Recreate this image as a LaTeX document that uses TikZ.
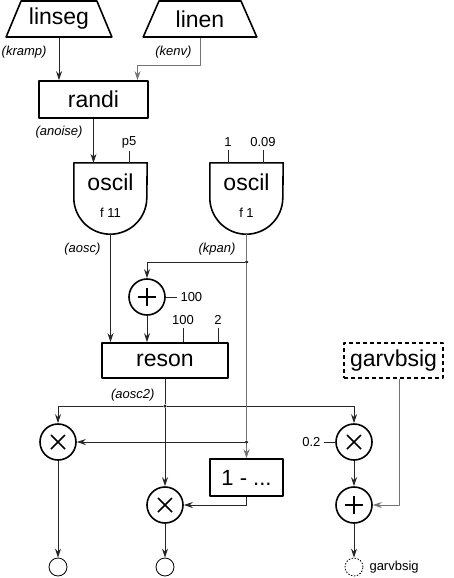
\documentclass[tikz,border=0pt]{standalone}
\usepackage{fontspec}
\setmainfont{Liberation Sans}
\usetikzlibrary{shapes.geometric,arrows.meta,positioning}

\begin{document}
\begin{tikzpicture}[x=1pt,y=-1pt,>={Stealth[length=9pt,width=6pt]},line join=round,
  every node/.style={font=\fontsize{13}{15}\selectfont},
  block/.style={draw,line width=1.6pt,inner sep=0pt,font=\fontsize{23}{26}\selectfont},
  gen/.style={block,trapezium,trapezium angle=61,trapezium stretches=true,minimum width=106pt,minimum height=36pt},
  fnbox/.style={inner sep=0pt,minimum width=73pt,minimum height=71pt},
  big/.style={font=\fontsize{23}{26}\selectfont},
  lbl/.style={anchor=east,font=\itshape\fontsize{13}{15}\selectfont},
  wire/.style={draw=black!85,line width=0.9pt},
  kwire/.style={draw=black!55,line width=0.9pt},
  dot/.style={circle,fill=black!85,inner sep=0pt,minimum size=3.5pt},
  op/.style={circle,draw,line width=1.6pt,minimum size=36pt,inner sep=0pt},
  addop/.style={op,path picture={\draw[line width=1.5pt]
    ([xshift=-9pt]path picture bounding box.center) -- ([xshift=9pt]path picture bounding box.center)
    ([yshift=-9pt]path picture bounding box.center) -- ([yshift=9pt]path picture bounding box.center);}},
  mulop/.style={op,path picture={\draw[line width=1.5pt]
    ([shift={(-7pt,-7pt)}]path picture bounding box.center) -- ([shift={(7pt,7pt)}]path picture bounding box.center)
    ([shift={(-7pt,7pt)}]path picture bounding box.center) -- ([shift={(7pt,-7pt)}]path picture bounding box.center);}},
  outp/.style={circle,draw,line width=0.8pt,minimum size=18pt,inner sep=0pt}]

  \useasboundingbox (0,0) rectangle (454,578);

  % generators
  \node[gen] (linseg) at (59,19) {linseg};
  \node[gen,minimum width=114pt] (linen) at (200,19) {linen};
  \node[lbl] (kramp) at (50,52) {(kramp)};
  \node[lbl] (kenv) at (195,52) {(kenv)};
  \node[block,minimum width=109pt,minimum height=37pt] (randi) at (93.5,99.5) {randi};
  \draw[wire,->] (linseg.south) -- (linseg.south |- randi.north);
  \draw[kwire,->] (linen.south) -- ++(0,28) -| ([xshift=44pt]randi.north);
  \node[lbl] (anoise) at (86,132) {(anoise)};

  % oscillators
  \node[fnbox] (osc1) at (110.5,198.5) {};
  \draw[line width=1.6pt] (osc1.north west) -- ([yshift=36.5pt]osc1.south west)
    arc[start angle=180,end angle=360,radius=36.5pt] -- (osc1.north east) -- cycle;
  \node[big] (osc1name) at (110.5,182) {oscil};
  \node (osc1tab) at (110.5,213) {f 11};
  \node[fnbox] (osc2) at (246.5,198.5) {};
  \draw[line width=1.6pt] (osc2.north west) -- ([yshift=36.5pt]osc2.south west)
    arc[start angle=180,end angle=360,radius=36.5pt] -- (osc2.north east) -- cycle;
  \node[big] (osc2name) at (246.5,182) {oscil};
  \node (osc2tab) at (246.5,213) {f 1};
  \draw[wire,->] (randi.south) -- (randi.south |- osc1.north);
  \node (p5) at (129,142) {p5};
  \draw[wire] (p5.south) -- (p5.south |- osc1.north);
  \node (amp1) at (228,142) {1};
  \draw[wire] (amp1.south) -- (amp1.south |- osc2.north);
  \node (frq) at (263,142) {0.09};
  \draw[wire] (frq.south) -- (frq.south |- osc2.north);
  \node[lbl] (aosc) at (104,249) {(aosc)};
  \node[lbl] (kpan) at (239,249) {(kpan)};

  % filter
  \node[dot] (kdot1) at (246.5,262) {};
  \node[addop] (add1) at (147,297) {};
  \node[anchor=west] (c100) at (177,297) {100};
  \node[block,minimum width=126pt,minimum height=35pt] (reson) at (165,360.5) {reson};
  \node (r100) at (183,320) {100};
  \node (r2) at (218,320) {2};
  \draw[kwire] (osc2.south) -- (kdot1);
  \draw[wire,->] (kdot1) -| (add1.north);
  \draw[wire] (add1.east) -- (c100.west);
  \draw[wire,->] (add1.south) -- (add1.south |- reson.north);
  \draw[wire,->] (osc1.south) -- (osc1.south |- reson.north);
  \draw[wire] (r100.south) -- (r100.south |- reson.north);
  \draw[wire] (r2.south) -- (r2.south |- reson.north);
  \node[block,dash pattern=on 4pt off 3pt,minimum width=99pt,minimum height=35pt] (gin) at (393.5,360.5) {garvbsig};
  \node[lbl] (aosc2) at (158,395) {(aosc2)};

  % panning and reverb send
  \node[dot] (adot) at (165,406) {};
  \node[dot] (kdot2) at (246.5,442) {};
  \node[mulop] (mul1) at (58,442) {};
  \node[mulop] (mul2) at (165,505) {};
  \node[mulop] (mul3) at (354,442) {};
  \node[addop] (add2) at (354,505) {};
  \node[block,minimum width=73pt,minimum height=37pt,font=\fontsize{22}{25}\selectfont] (inv) at (246.5,477.5) {1 - ...};
  \node[anchor=east] (c02) at (324,442) {0.2};
  \draw[wire] (reson.south) -- (adot);
  \draw[wire,->] (adot) -| (mul1.north);
  \draw[wire,->] (adot) -| (mul3.north);
  \draw[wire,->] (adot) -- (mul2.north);
  \draw[kwire] (kdot1) -- (kdot2);
  \draw[kwire,->] (kdot2) -- (inv.north);
  \draw[wire,->] (kdot2) -- (mul1.east);
  \draw[wire,->] (inv.south) |- (mul2.east);
  \draw[wire] (c02) -- (mul3.west);
  \draw[wire,->] (mul3.south) -- (add2.north);
  \draw[kwire,->] ([xshift=5.5pt]gin.south) |- (add2.east);

  % outputs
  \node[outp] (out1) at (58,567) {};
  \node[outp] (out2) at (165,567) {};
  \node[outp,dash pattern=on 1.5pt off 1.5pt] (out3) at (354,567) {};
  \node[anchor=west] (outlbl) at (366,567) {garvbsig};
  \draw[wire,->] (mul1.south) -- (out1.north);
  \draw[wire,->] (mul2.south) -- (out2.north);
  \draw[wire,->] (add2.south) -- (out3.north);

\end{tikzpicture}
\end{document}
